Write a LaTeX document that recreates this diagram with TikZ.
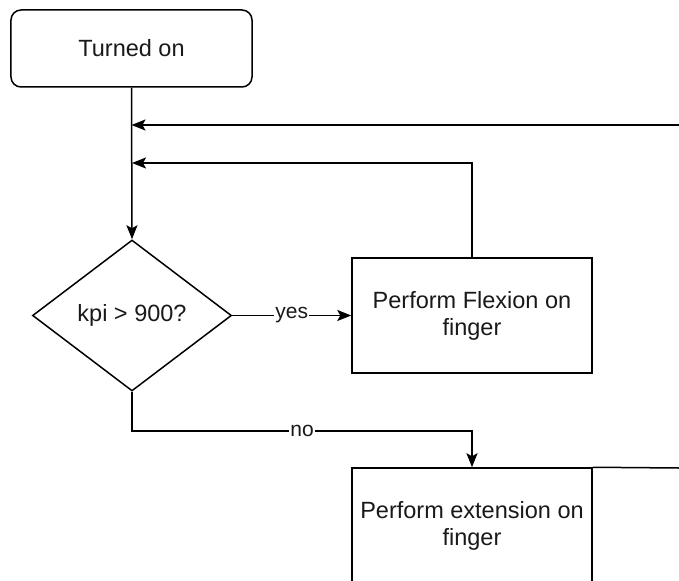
\documentclass[tikz,border=0pt]{standalone}
\usepackage{fontspec}
\setmainfont{Liberation Sans}
\usetikzlibrary{shapes.geometric,arrows.meta}
\begin{document}
\begin{tikzpicture}[x=1bp,y=-1bp,
  line/.style={line width=1.5bp, draw=black},
  arr/.style={line, -{Stealth[length=14bp,width=11bp,inset=3bp]}},
  box/.style={draw, line width=1.5bp, minimum width=240bp, minimum height=115bp, align=center, inner sep=0pt, font=\fontsize{23.5bp}{27bp}\selectfont, text=black!90},
  dia/.style={draw, diamond, line width=1.5bp, minimum width=199bp, minimum height=151bp, inner sep=0pt, font=\fontsize{23.5bp}{27bp}\selectfont, text=black!90},
  lbl/.style={fill=white, inner sep=1bp, font=\fontsize{21bp}{24bp}\selectfont, text=black!90}
]
\useasboundingbox (0,0) rectangle (679,581);
\clip (0,0) rectangle (679,581);
\node[box, rounded corners=10bp, minimum width=241bp, minimum height=77bp] (start) at (131.5,48.5) {Turned on};
\node[dia] (dec) at (132,315.5) {kpi > 900?};
\node[box] (flex) at (472,315.5) {Perform Flexion on\\finger};
\node[box] (ext) at (472,525.5) {Perform extension on\\finger};
\coordinate (r1) at (679,125);
\coordinate (j2) at (132,163);
\coordinate (r2) at (679,468);
\draw[arr] (start.south) -- (dec.north);
\draw[arr] (r1) -- (r1 -| start.south);
\draw[arr] (flex.north) |- (j2);
\draw[arr] (dec.east) -- node[lbl]{yes} (flex.west);
\draw[arr] (dec.south) -- ++(0,39) -| node[lbl, pos=0.25]{no} (ext.north);
\draw[line] (ext.north east) -- (r2);
\end{tikzpicture}
\end{document}
